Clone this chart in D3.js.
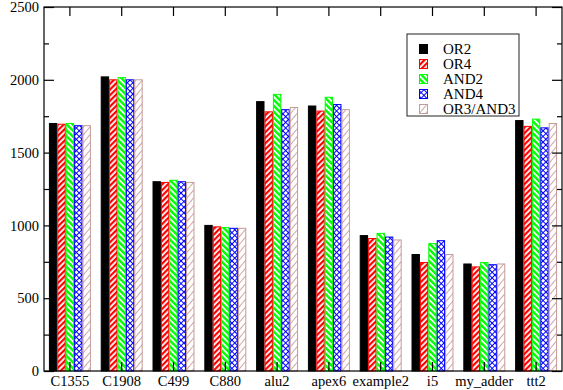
<!DOCTYPE html>
<html>
<head>
<meta charset="utf-8">
<script src="https://cdn.jsdelivr.net/npm/d3@7/dist/d3.min.js"></script>
<style>
  body { margin: 0; background: #fff; }
  svg text { font-family: 'Liberation Serif', 'Times New Roman', Times, serif; }
</style>
</head>
<body>
<svg id="chart" width="563" height="390"></svg>
<script>
(function () {
    'use strict';

    var categories = ['C1355', 'C1908', 'C499', 'C880', 'alu2', 'apex6', 'example2', 'i5', 'my_adder', 'ttt2'];
    var seriesNames = ['OR2', 'OR4', 'AND2', 'AND4', 'OR3/AND3'];

    var or2  = [1700, 2020, 1300, 1000, 1850, 1820, 930, 800, 735, 1720];
    var or4  = [1695, 2000, 1295,  990, 1780, 1785, 910, 745, 715, 1680];
    var and2 = [1700, 2015, 1310,  985, 1900, 1880, 945, 875, 745, 1730];
    var and4 = [1685, 2000, 1300,  980, 1795, 1830, 920, 895, 730, 1670];
    var or3  = [1685, 2000, 1295,  980, 1810, 1795, 900, 800, 735, 1700];

    var yTicks = [0, 500, 1000, 1500, 2000, 2500];
    var yMinor = [250, 750, 1250, 1750, 2250];

    var series = [or2, or4, and2, and4, or3];

    var left = 44, right = 562, top = 7, bottom = 371;
    var serif = "'Liberation Serif', 'Times New Roman', Times, serif";

    var svg = d3.select('#chart');

    // fill patterns for the hatched bars
    var defs = svg.append('defs');

    function stripes(id, color, angle, period, width) {
        var p = defs.append('pattern')
            .attr('id', id)
            .attr('patternUnits', 'userSpaceOnUse')
            .attr('width', period)
            .attr('height', period)
            .attr('patternTransform', 'rotate(' + angle + ')');
        p.append('rect').attr('width', period).attr('height', period).attr('fill', '#fff');
        p.append('rect').attr('width', width).attr('height', period).attr('fill', color);
    }

    stripes('pat-or4', '#ff0000', 45, 4, 2.2);
    stripes('pat-and2', '#00ff00', -45, 4.2, 2.4);
    stripes('pat-or3', '#d2a6a6', 40, 5, 1);

    var cross = defs.append('pattern')
        .attr('id', 'pat-and4')
        .attr('patternUnits', 'userSpaceOnUse')
        .attr('width', 4)
        .attr('height', 4)
        .attr('patternTransform', 'rotate(45)');
    cross.append('rect').attr('width', 4).attr('height', 4).attr('fill', '#fff');
    cross.append('rect').attr('width', 1).attr('height', 4).attr('fill', '#0000ff');
    cross.append('rect').attr('width', 4).attr('height', 1).attr('fill', '#0000ff');

    var fills = ['#000', 'url(#pat-or4)', 'url(#pat-and2)', 'url(#pat-and4)', 'url(#pat-or3)'];
    var strokes = ['#000', '#ff0000', '#00ff00', '#0000ff', '#c49a9a'];

    var x = d3.scaleBand()
        .domain(categories)
        .range([left, right])
        .paddingInner(0.19)
        .paddingOuter(0.095);

    var xs = d3.scaleBand()
        .domain(d3.range(seriesNames.length))
        .range([0, x.bandwidth()]);

    var y = d3.scaleLinear()
        .domain([0, 2500])
        .range([bottom, top]);

    // bars
    series.forEach(function (vals, s) {
        svg.append('g')
            .selectAll('rect')
            .data(vals)
            .enter()
            .append('rect')
            .attr('x', function (d, i) { return x(categories[i]) + xs(s) + 0.5; })
            .attr('y', function (d) { return y(d); })
            .attr('width', xs.bandwidth() - 1)
            .attr('height', function (d) { return bottom - y(d); })
            .attr('fill', fills[s])
            .attr('stroke', strokes[s])
            .attr('stroke-width', 1);
    });

    // frame
    svg.append('rect')
        .attr('x', left)
        .attr('y', top)
        .attr('width', right - left)
        .attr('height', bottom - top)
        .attr('fill', 'none')
        .attr('stroke', '#000')
        .attr('stroke-width', 1.2);

    // axes
    svg.append('g')
        .attr('transform', 'translate(0,' + bottom + ')')
        .call(d3.axisBottom(x).tickSize(-9).tickPadding(5).tickSizeOuter(0));

    svg.append('g')
        .attr('transform', 'translate(0,' + top + ')')
        .call(d3.axisTop(x).tickSize(-9).tickFormat('').tickSizeOuter(0));

    svg.append('g')
        .attr('transform', 'translate(' + left + ',0)')
        .call(d3.axisLeft(y).tickValues(yTicks).tickFormat(d3.format('d'))
            .tickSize(-10).tickPadding(5).tickSizeOuter(0));

    svg.append('g')
        .attr('transform', 'translate(' + left + ',0)')
        .call(d3.axisLeft(y).tickValues(yMinor).tickSize(-5).tickFormat('').tickSizeOuter(0));

    svg.append('g')
        .attr('transform', 'translate(' + right + ',0)')
        .call(d3.axisRight(y).tickValues(yTicks).tickSize(-10).tickFormat('').tickSizeOuter(0));

    svg.append('g')
        .attr('transform', 'translate(' + right + ',0)')
        .call(d3.axisRight(y).tickValues(yMinor).tickSize(-5).tickFormat('').tickSizeOuter(0));

    svg.selectAll('.domain').remove();
    svg.selectAll('g').attr('font-family', serif);
    svg.selectAll('.tick line').attr('stroke', '#000').attr('stroke-width', 1.2);
    svg.selectAll('.tick text')
        .attr('fill', '#000')
        .attr('font-family', serif)
        .attr('font-size', 14.5);

    // legend
    var legend = svg.append('g')
        .attr('transform', 'translate(407,34)')
        .attr('font-family', serif);

    legend.append('rect')
        .attr('width', 112)
        .attr('height', 82)
        .attr('fill', '#fff')
        .attr('stroke', '#222')
        .attr('stroke-width', 1);

    var items = legend.selectAll('g.item')
        .data(seriesNames)
        .enter()
        .append('g')
        .attr('class', 'item')
        .attr('transform', function (d, i) { return 'translate(0,' + (10 + i * 15) + ')'; });

    items.append('rect')
        .attr('x', 12.5)
        .attr('y', 0.5)
        .attr('width', 8)
        .attr('height', 9)
        .attr('fill', function (d, i) { return fills[i]; })
        .attr('stroke', function (d, i) { return strokes[i]; });

    items.append('text')
        .attr('x', 36)
        .attr('y', 5)
        .attr('dy', '0.35em')
        .attr('font-size', 15)
        .attr('font-family', serif)
        .attr('fill', '#000')
        .text(function (d) { return d; });
}());
</script>
</body>
</html>
